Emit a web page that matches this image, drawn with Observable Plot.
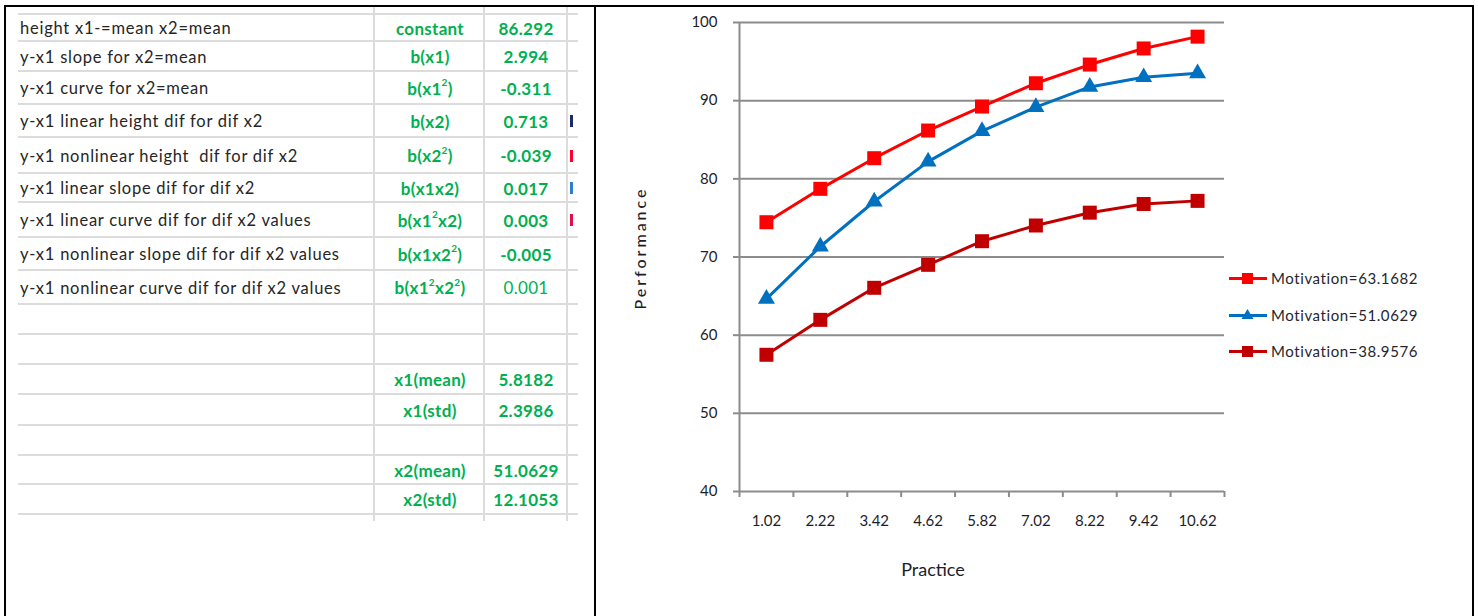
<!DOCTYPE html>
<html>
<head>
<meta charset="utf-8">
<script src="https://cdn.jsdelivr.net/npm/d3@7"></script>
<script src="https://cdn.jsdelivr.net/npm/@observablehq/plot@0.6"></script>
<style>
  html, body { margin: 0; padding: 0; background: #fff; }
  #page { position: relative; width: 1478px; height: 616px; overflow: hidden; background: #fff; }
  .frame { position: absolute; left: 4px; top: 5px; width: 1466px; height: 700px;
           border-top: 2px solid #000; border-left: 2px solid #000; border-right: 2px solid #000; }
  .divider { position: absolute; left: 594px; top: 5px; width: 2px; height: 620px; background: #000; }
  .hline { position: absolute; left: 18px; width: 560px; height: 2px; background: #dcdcdc; }
  .vline { position: absolute; top: 6px; height: 515px; width: 2px; background: #dcdcdc; }
  .cell { position: absolute; display: flex; align-items: center; font-family: Lato, "Noto Sans", sans-serif;
          white-space: nowrap; }
  .lab { left: 20px; width: 352px; color: #262626; font-size: 16.5px; letter-spacing: 0.75px; }
  .coef { left: 376px; width: 108px; justify-content: center; color: #00b050; font-weight: 700; font-size: 17px; letter-spacing: 0.3px; }
  .val { left: 486px; width: 80px; justify-content: center; color: #00b050; font-weight: 700; font-size: 17px; letter-spacing: 0.3px; }
  .stub { position: absolute; left: 570px; width: 3px; height: 12px; }
  .coef sup { font-size: 10px; line-height: 0; position: relative; top: -6px; vertical-align: baseline; }
  #chart { position: absolute; left: 597px; top: 0px; }
  #legend { position: absolute; left: 1228px; top: 266px; font-family: Lato, "Noto Sans", sans-serif; }
  .litem { position: absolute; left: 0; height: 24px; display: flex; align-items: center; white-space: nowrap;
           font-size: 15px; letter-spacing: 0.6px; color: #262630; }
  .litem svg { margin-right: 3px; }
</style>
</head>
<body>
<div id="page">
  <div id="table"></div>
  <div id="chart"></div>
  <div id="legend"></div>
  <div class="frame"></div>
  <div class="divider"></div>
</div>
<script>
// ---------- table data ----------
const rowDescriptions = [
  "height x1-=mean x2=mean",
  "y-x1 slope for x2=mean",
  "y-x1 curve for x2=mean",
  "y-x1 linear height dif for dif x2",
  "y-x1 nonlinear height&nbsp; dif for dif x2",
  "y-x1 linear slope dif for dif x2",
  "y-x1 linear curve dif for dif x2 values",
  "y-x1 nonlinear slope dif for dif x2 values",
  "y-x1 nonlinear curve dif for dif x2 values",
  "", "", "", "", "", "", ""
];
const coefNames = [
  "constant", "b(x1)", "b(x1<sup>2</sup>)", "b(x2)", "b(x2<sup>2</sup>)", "b(x1x2)",
  "b(x1<sup>2</sup>x2)", "b(x1x2<sup>2</sup>)", "b(x1<sup>2</sup>x2<sup>2</sup>)",
  "", "", "x1(mean)", "x1(std)", "", "x2(mean)", "x2(std)"
];
const coefValues = [
  "86.292", "2.994", "-0.311", "0.713", "-0.039", "0.017", "0.003", "-0.005", "0.001",
  "", "", "5.8182", "2.3986", "", "51.0629", "12.1053"
];
// colours of the cut-off neighbouring column (only a sliver shows)
const neighbourStubColors = ["", "", "", "#1f2a6b", "#ff0033", "#2f7fd0", "#e0104a", "", "", "", "", "", "", "", "", ""];
const rowLines = [14, 41, 71, 104, 137, 173, 202, 237, 270, 304, 334, 364, 394, 425, 455, 484, 514];
const columnLines = [374, 484, 567];

// ---------- chart data ----------
const practice = [1.02, 2.22, 3.42, 4.62, 5.82, 7.02, 8.22, 9.42, 10.62];
const seriesNames = ["Motivation=63.1682", "Motivation=51.0629", "Motivation=38.9576"];
const perfHigh = [74.45, 78.72, 82.64, 86.18, 89.25, 92.23, 94.62, 96.68, 98.19];
const perfMean = [64.65, 71.34, 77.10, 82.20, 86.10, 89.17, 91.76, 93.00, 93.50];
const perfLow  = [57.49, 61.96, 66.06, 69.00, 72.02, 74.03, 75.67, 76.78, 77.18];
const seriesColors = ["#ff0000", "#0070c0", "#c00000"];
const seriesSymbols = ["square", "triangle", "square"];
const yTicks = [40, 50, 60, 70, 80, 90, 100];
const xLabels = ["1.02", "2.22", "3.42", "4.62", "5.82", "7.02", "8.22", "9.42", "10.62"];
const xTitle = "Practice";
const yTitle = "Performance";

// ---------- build table ----------
const table = document.getElementById("table");
rowLines.forEach(y => {
  const d = document.createElement("div");
  d.className = "hline"; d.style.top = (y - 1) + "px"; table.appendChild(d);
});
columnLines.forEach(x => {
  const d = document.createElement("div");
  d.className = "vline"; d.style.left = (x - 1) + "px"; table.appendChild(d);
});
rowDescriptions.forEach((txt, i) => {
  const top = rowLines[i] + 1, h = rowLines[i + 1] - rowLines[i] - 1;
  const mk = (cls, html, extraStyle) => {
    const c = document.createElement("div");
    c.className = "cell " + cls;
    c.style.top = top + "px"; c.style.height = h + "px";
    c.innerHTML = html;
    if (extraStyle) Object.assign(c.style, extraStyle);
    table.appendChild(c);
  };
  if (txt) mk("lab", txt);
  if (coefNames[i]) mk("coef", coefNames[i]);
  if (coefValues[i]) mk("val", coefValues[i], coefValues[i] === "0.001" ? {fontWeight: "400"} : null);
  if (neighbourStubColors[i]) {
    const s = document.createElement("div");
    s.className = "stub";
    s.style.top = (top + h / 2 - 6) + "px";
    s.style.background = neighbourStubColors[i];
    table.appendChild(s);
  }
});

// ---------- build chart ----------
const seriesValues = [perfHigh, perfMean, perfLow];
const rows = seriesNames.flatMap((name, i) =>
  practice.map((x, j) => ({practice: x, performance: seriesValues[i][j], series: name, symbol: seriesSymbols[i]})));
const step = practice[1] - practice[0];
const xBounds = [...practice.map(p => p - step / 2), practice[practice.length - 1] + step / 2];
const gridColor = "#8c8c8c";
const textColor = "#1e1e28";

const chart = Plot.plot({
  width: 876,
  height: 616,
  marginLeft: 142,
  marginRight: 249,
  marginTop: 22,
  marginBottom: 125,
  style: {fontFamily: "Lato, 'Noto Sans', sans-serif", fontSize: "15px", color: textColor, background: "transparent"},
  x: {domain: [xBounds[0], xBounds[xBounds.length - 1]]},
  y: {domain: [yTicks[0], yTicks[yTicks.length - 1]]},
  color: {domain: seriesNames, range: seriesColors},
  marks: [
    Plot.ruleY(yTicks, {stroke: gridColor, strokeWidth: 2}),
    Plot.ruleX([xBounds[0]], {stroke: gridColor, strokeWidth: 2}),
    Plot.axisY({ticks: yTicks, tickSize: 6, tickPadding: 16, stroke: gridColor, strokeWidth: 2, color: textColor,
                fontSize: 15, label: null}),
    Plot.axisX({ticks: xBounds, tickSize: 6, tickFormat: () => "", stroke: gridColor, strokeWidth: 2, label: null}),
    Plot.axisX({ticks: practice, tickSize: 0, tickPadding: 24, tickFormat: (d, i) => xLabels[i], color: textColor,
                fontSize: 15, label: null}),
    Plot.text([xTitle], {frameAnchor: "bottom", textAnchor: "middle", dx: -49, dy: 84, fontSize: 18, fill: textColor}),
    Plot.text([yTitle], {frameAnchor: "left", textAnchor: "middle", lineAnchor: "middle", rotate: -90, dx: -99, dy: -9,
                         fontSize: 16, fill: textColor, fontWeight: 500}),
    Plot.line(rows, {x: "practice", y: "performance", z: "series", stroke: "series", strokeWidth: 3}),
    Plot.dot(rows.filter(d => d.symbol === "square"), {x: "practice", y: "performance", fill: "series", symbol: "square", r: 7.9}),
    Plot.dot(rows.filter(d => d.symbol === "triangle"), {x: "practice", y: "performance", fill: "series", symbol: "triangle", r: 6.3})
  ]
});
document.getElementById("chart").appendChild(chart);
chart.querySelectorAll("text").forEach(t => {
  if (t.textContent === yTitle) t.style.letterSpacing = "3px";
});

// ---------- legend ----------
const legend = document.getElementById("legend");
const legendTops = [0, 37, 73];
seriesNames.forEach((name, i) => {
  const item = document.createElement("div");
  item.className = "litem";
  item.style.top = legendTops[i] + "px";
  const c = seriesColors[i];
  const marker = seriesSymbols[i] === "square"
    ? `<rect x="14" y="7" width="11" height="11" fill="${c}"/>`
    : `<path d="M19.5 6 L25.5 16 L13.5 16 Z" fill="${c}"/>`;
  item.innerHTML = `<svg width="40" height="24"><line x1="1" y1="12.5" x2="39" y2="12.5" stroke="${c}" stroke-width="3"/>${marker}</svg><span>${name}</span>`;
  legend.appendChild(item);
});
</script>
</body>
</html>
